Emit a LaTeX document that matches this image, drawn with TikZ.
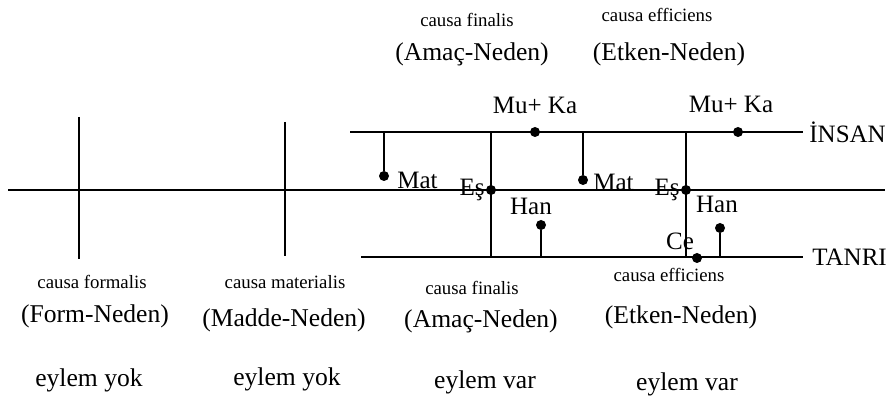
\documentclass[tikz,border=0pt]{standalone}
\usepackage{fontspec}
\setmainfont{Liberation Serif}
\begin{document}
\begin{tikzpicture}[x=0.5pt,y=-0.5pt,
  big/.style={font=\fontsize{12.8}{14}\selectfont, inner sep=0pt},
  small/.style={font=\fontsize{9.4}{11}\selectfont, inner sep=0pt},
  lab/.style={font=\fontsize{12.5}{14}\selectfont, inner sep=0pt},
  dot/.style={circle, fill=black, inner sep=0pt, minimum size=5pt},
  thickline/.style={line width=1.2pt},
  midline/.style={line width=1pt},
  thinline/.style={line width=0.55pt}]
\useasboundingbox (0,0) rectangle (893,399);
% main lines
\coordinate (mL) at (8,190); \coordinate (mR) at (885,190); \coordinate (m2) at (285,190);
\draw[midline] (mL) -- (m2);
\draw[thickline] (m2) -- (mR);
\coordinate (iL) at (350,132); \coordinate (iR) at (803,132);
\coordinate (tL) at (361,257); \coordinate (tR) at (803,257);
\draw[thickline] (iL) -- (iR);
\draw[thickline] (tL) -- (tR);
\node[lab, anchor=west] (insan) at (809,132) {İNSAN};
\node[lab, anchor=west] (tanri) at (812,257) {TANRI};
% left verticals
\coordinate (v1t) at (79,117); \coordinate (v1b) at (79,259);
\coordinate (v2t) at (285,122); \coordinate (v2b) at (285,256);
\draw[midline] (v1t) -- (v1b);
\draw[midline] (v2t) -- (v2b);
% Es verticals
\node[dot] (es1) at (491,190) {};
\node[dot] (es2) at (686,190) {};
\coordinate (es1t) at (491,132); \coordinate (es1b) at (491,257);
\coordinate (es2t) at (686,132); \coordinate (es2b) at (686,257);
\draw[thinline] (es1t) -- (es1b);
\draw[thinline] (es2t) -- (es2b);
\node[lab, anchor=east] (es1l) at (485,190) {Eş};
\node[lab, anchor=east] (es2l) at (680,190) {Eş};
% Mat
\node[dot] (mat1) at (384,176) {};
\coordinate (mat1t) at (384,132);
\draw[thinline] (mat1t) -- (mat1);
\node[lab, anchor=west] (mat1l) at (397,180) {Mat};
\node[dot] (mat2) at (583,180) {};
\coordinate (mat2t) at (583,132);
\draw[thinline] (mat2t) -- (mat2);
\node[lab, anchor=west] (mat2l) at (593,182) {Mat};
% Mu+ Ka
\node[dot] (mk1) at (535,132) {};
\node[lab] (mk1l) at (535,105) {Mu+ Ka};
\node[dot] (mk2) at (738,132) {};
\node[lab] (mk2l) at (731,104) {Mu+ Ka};
% Han
\node[dot] (han1) at (541,225) {};
\coordinate (han1b) at (541,257);
\draw[thinline] (han1) -- (han1b);
\node[lab] (han1l) at (531,206) {Han};
\node[dot] (han2) at (720,228) {};
\coordinate (han2b) at (720,257);
\draw[thinline] (han2) -- (han2b);
\node[lab] (han2l) at (717,204) {Han};
% Ce
\node[dot] (ce) at (697,258) {};
\node[lab] (cel) at (680,241) {Ce};
% top labels
\node[small] (cf1) at (467,20) {causa finalis};
\node[big] (an1) at (472,54) {(Amaç-Neden)};
\node[small] (ce1) at (657,15) {causa efficiens};
\node[big] (en1) at (669,54) {(Etken-Neden)};
% bottom labels
\node[small] (cfo) at (92,282) {causa formalis};
\node[big] (fn) at (95,316) {(Form-Neden)};
\node[big] (ey1) at (89,380) {eylem yok};
\node[small] (cma) at (285,282) {causa materialis};
\node[big] (mn) at (284,320) {(Madde-Neden)};
\node[big] (ey2) at (287,379) {eylem yok};
\node[small] (cf2) at (472,288) {causa finalis};
\node[big] (an2) at (481,321) {(Amaç-Neden)};
\node[big] (ey3) at (485,382) {eylem var};
\node[small] (ce2) at (669,275) {causa efficiens};
\node[big] (en2) at (681,317) {(Etken-Neden)};
\node[big] (ey4) at (687,384) {eylem var};
\end{tikzpicture}
\end{document}
